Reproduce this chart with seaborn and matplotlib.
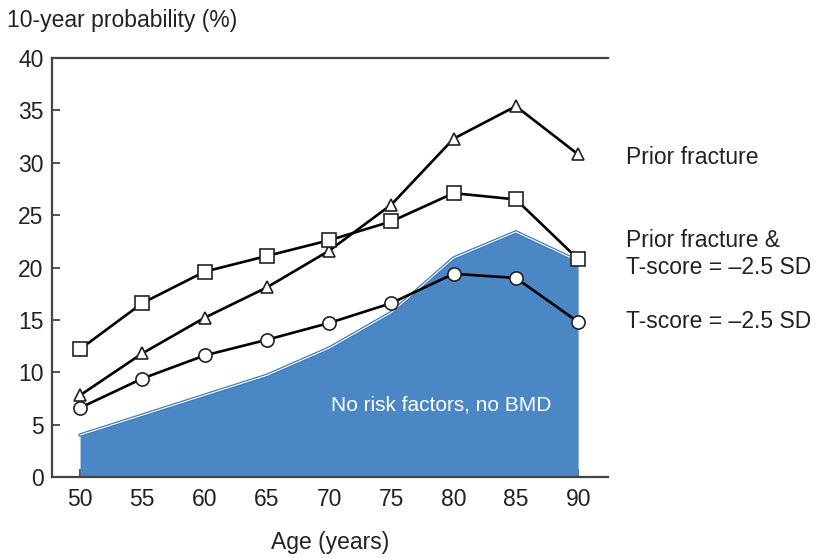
import matplotlib
matplotlib.use("Agg")
from matplotlib import pyplot as plt
import seaborn as sns
import pandas as pd

ages = [50, 55, 60, 65, 70, 75, 80, 85, 90]
prior_fracture = [7.8, 11.8, 15.2, 18.1, 21.6, 26.0, 32.3, 35.4, 30.8]
prior_fracture_tscore = [12.2, 16.6, 19.6, 21.1, 22.6, 24.4, 27.1, 26.5, 20.8]
tscore = [6.6, 9.4, 11.6, 13.1, 14.7, 16.6, 19.4, 19.0, 14.8]
no_risk = [4.0, 5.9, 7.8, 9.7, 12.3, 15.7, 20.9, 23.4, 20.6]

sns.set_style("ticks")
plt.rcParams['font.family'] = ['Liberation Sans', 'DejaVu Sans']
plt.rcParams['font.size'] = 16.5

fig = plt.figure(figsize=(8.18, 5.58), dpi=100)
ax = fig.add_axes([0.0636, 0.1452, 0.6797, 0.7508])

blue = '#4a87c4'
ax.fill_between(ages, no_risk, 0, color=blue, lw=0, zorder=1)
ax.plot(ages, no_risk, color='#3f7cbb', lw=2.6, zorder=1.5)
ax.plot(ages, no_risk, color='white', lw=0.8, zorder=1.6)

df = pd.DataFrame({'age': ages, 'pf': prior_fracture,
                   'pft': prior_fracture_tscore, 'ts': tscore})
line_kw = dict(color='black', lw=1.9, markerfacecolor='white',
               markeredgecolor='#222222', markeredgewidth=1.2, ax=ax, zorder=3)
sns.lineplot(data=df, x='age', y='pf', marker='^', markersize=9, **line_kw)
sns.lineplot(data=df, x='age', y='pft', marker='s', markersize=9.5, **line_kw)
sns.lineplot(data=df, x='age', y='ts', marker='o', markersize=9.5, **line_kw)

ax.set_xlim(47.75, 92.4)
ax.set_ylim(0, 40)
ax.set_xticks(ages)
ax.set_yticks(range(0, 41, 5))
ax.tick_params(direction='in', length=6, width=1.2, color='#333333',
               labelsize=16.5, labelcolor='#222222', pad=8)
ax.tick_params(axis='y', pad=6)
for side in ['left', 'top', 'bottom']:
    ax.spines[side].set_color('#444444')
    ax.spines[side].set_linewidth(1.6)
ax.spines['right'].set_visible(False)
ax.set_xlabel('Age (years)', fontsize=16.5, color='#222222', labelpad=14)
ax.set_ylabel('')

fig.text(0.008, 0.964, '10-year probability (%)', fontsize=16.5,
         color='#222222', va='center', ha='left')

ax.text(79.0, 6.9, 'No risk factors, no BMD', color='white', fontsize=15,
        ha='center', va='center', zorder=4)

fig.text(0.765, 0.7186, 'Prior fracture', fontsize=16.5, color='#222222',
         va='center')
fig.text(0.765, 0.545, 'Prior fracture &\nT-score = \u20132.5 SD',
         fontsize=16.5, color='#222222', va='center', linespacing=1.25)
fig.text(0.765, 0.423, 'T-score = \u20132.5 SD', fontsize=16.5,
         color='#222222', va='center')

fig.savefig('out.png', dpi=100)
